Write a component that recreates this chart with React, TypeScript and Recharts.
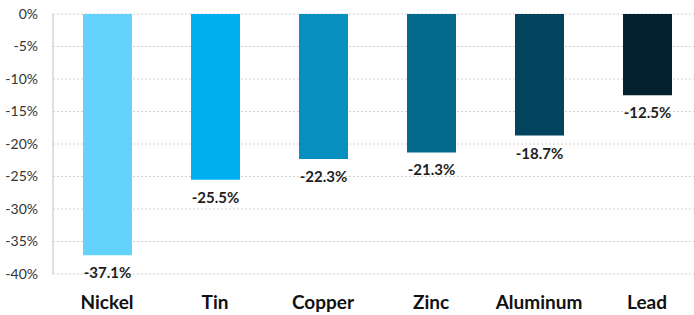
import { Bar, BarChart, CartesianGrid, Cell, LabelList, XAxis, YAxis } from "recharts";

const metals = ["Nickel", "Tin", "Copper", "Zinc", "Aluminum", "Lead"];
const change = [-37.1, -25.5, -22.3, -21.3, -18.7, -12.5];
const colors = ["#63D3FB", "#00AFEF", "#068FBF", "#03698D", "#02435D", "#03212E"];
const yTicks = [0, -5, -10, -15, -20, -25, -30, -35, -40];
const dividers = [1, 2, 3, 4, 5];

const data = metals.map((m, i) => ({ m, v: change[i] }));

const font = "Lato, 'Open Sans', sans-serif";
const grey = "#bfbfbf";

function ValueLabel(props: any) {
  const { x, y, width, height, value } = props;
  const bottom = Math.max(y, y + height);
  return (
    <text
      x={x + width / 2}
      y={bottom + 17}
      textAnchor="middle"
      dominantBaseline="central"
      fontFamily={font}
      fontWeight={700}
      fontSize={15}
      fill="#1e1e1e"
    >
      {value.toFixed(1)}%
    </text>
  );
}

export default function App() {
  return (
    <div style={{ position: "absolute", left: 0, top: 0, width: 694, height: 315, overflow: "hidden", background: "#fff" }}>
      <BarChart width={702} height={315} data={data} margin={{ top: 14, right: 1, bottom: 0, left: 0 }}>
        <CartesianGrid vertical={false} stroke="#d2d2d2" strokeDasharray="2 2" />
        <YAxis
          domain={[-40, 0]}
          ticks={yTicks}
          width={53}
          tickFormatter={(v) => `${v}%`}
          axisLine={{ stroke: grey }}
          tickLine={false}
          tickMargin={9}
          tick={{ fill: "#333", fontFamily: font, fontSize: 14 }}
        />
        <XAxis
          dataKey="m"
          height={41}
          axisLine={false}
          tickLine={false}
          tickSize={0}
          tickMargin={22}
          tick={{ fill: "#111", fontFamily: font, fontSize: 19, fontWeight: 700 }}
        />
        <XAxis
          xAxisId="top"
          orientation="top"
          type="number"
          domain={[0, 6]}
          ticks={dividers}
          height={0}
          mirror
          tickSize={7}
          tickFormatter={() => ""}
          axisLine={{ stroke: grey }}
          tickLine={{ stroke: grey }}
        />
        <Bar dataKey="v" barSize={49} isAnimationActive={false}>
          {data.map((d, i) => (
            <Cell key={d.m} fill={colors[i]} />
          ))}
          <LabelList dataKey="v" content={ValueLabel} />
        </Bar>
      </BarChart>
    </div>
  );
}
